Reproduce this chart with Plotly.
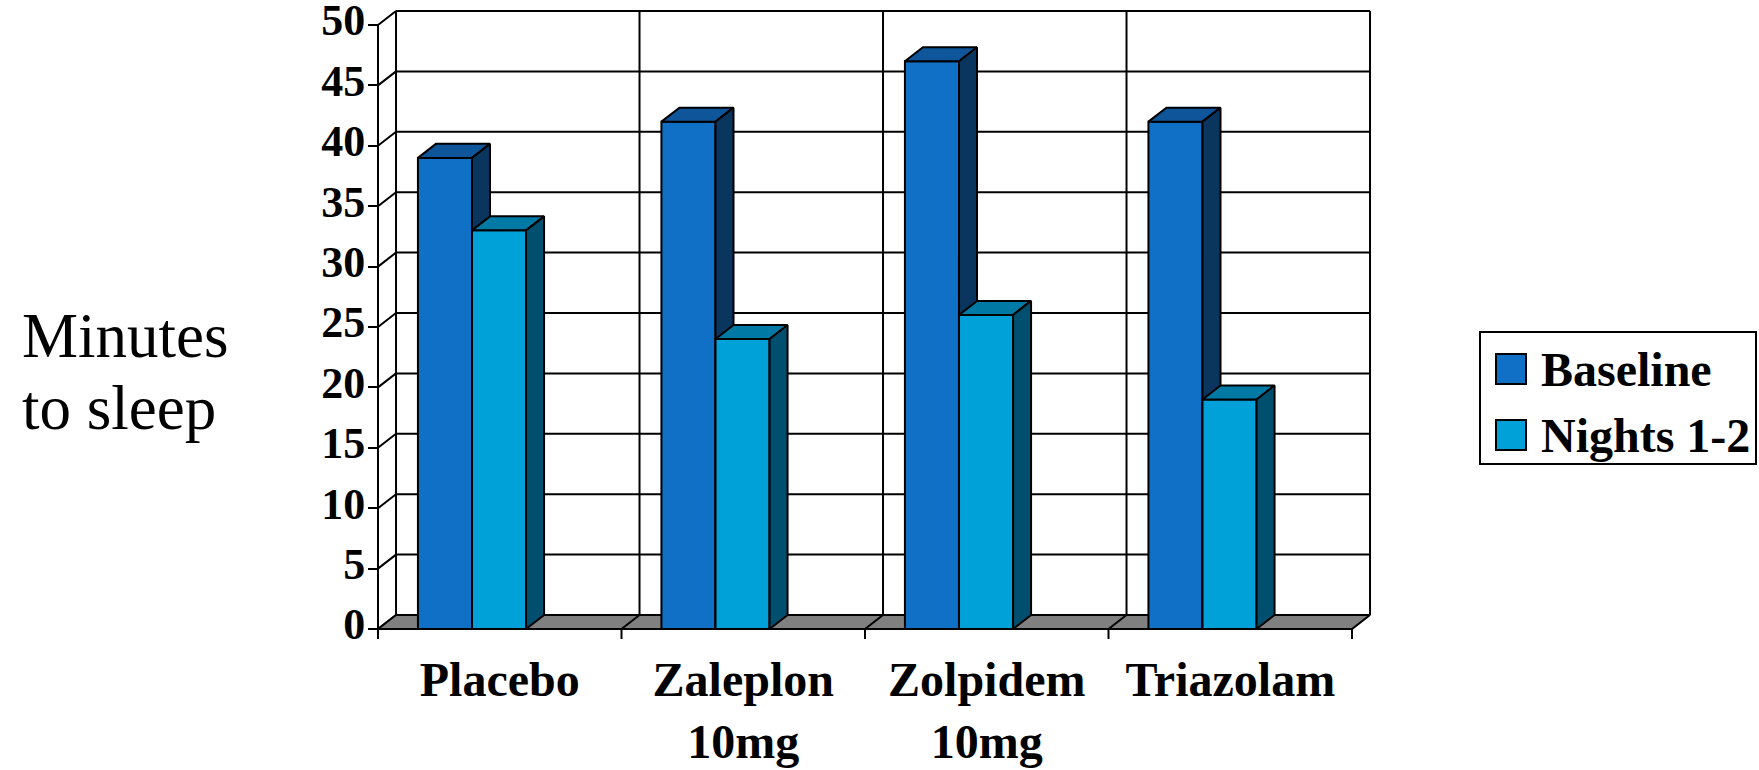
import plotly.graph_objects as go

# ---- data ----
categories = ["Placebo", "Zaleplon<br>10mg", "Zolpidem<br>10mg", "Triazolam"]
series_names = ["Baseline", "Nights 1-2"]
baseline = [39, 42, 47, 42]
nights_1_2 = [33, 24, 26, 19]
y_ticks = list(range(0, 55, 5))

# ---- styling ----
FONT = "Liberation Serif"
LABEL_SIZE = 48
front_colors = ["#1070C5", "#00A0D8"]
top_colors = ["#0E559A", "#0079A5"]
side_colors = ["#0A355F", "#004F6E"]
FLOOR = "#808080"
LW = 2

# 3-D depth of the chart box, in axis units
DX = 0.074   # horizontal depth (category units)
DY = 1.16    # vertical depth (value units)
BAR_W = 0.222
BAR_START = 0.164

n_cat = len(categories)
y_top = y_ticks[-1]

fig = go.Figure()


def add_lines(xs, ys):
    fig.add_trace(go.Scatter(x=xs, y=ys, mode="lines",
                             line=dict(color="black", width=LW),
                             hoverinfo="skip", showlegend=False))


def add_polys(polys, fill, name):
    xs, ys = [], []
    for p in polys:
        for px, py in p + [p[0]]:
            xs.append(px)
            ys.append(py)
        xs.append(None)
        ys.append(None)
    fig.add_trace(go.Scatter(x=xs, y=ys, mode="lines", fill="toself",
                             fillcolor=fill, name=name,
                             line=dict(color="black", width=LW),
                             hoverinfo="skip", showlegend=False))


# back wall: horizontal gridlines + left-wall diagonals
gx, gy = [], []
for v in y_ticks[1:]:
    gx += [DX, n_cat + DX, None]
    gy += [v + DY, v + DY, None]
for v in y_ticks:
    gx += [0, DX, None]
    gy += [v, v + DY, None]
# back wall verticals (left edge, category dividers, right edge)
for c in range(0, n_cat + 1):
    gx += [c + DX, c + DX, None]
    gy += [DY, y_top + DY, None]
# front value axis
gx += [0, 0, None]
gy += [-0.83, y_top, None]
# category tick marks under the floor
for c in range(1, n_cat + 1):
    gx += [c, c, None]
    gy += [0, -0.83, None]
add_lines(gx, gy)

# floor
add_polys([[(0, 0), (n_cat, 0), (n_cat + DX, DY), (DX, DY)]], FLOOR, "floor")
fx, fy = [], []
for c in range(1, n_cat):
    fx += [c, c + DX, None]
    fy += [0, DY, None]
add_lines(fx, fy)

# 3-D columns
for s, values in enumerate([baseline, nights_1_2]):
    off = BAR_START + s * BAR_W
    fronts, tops, sides = [], [], []
    for i, v in enumerate(values):
        x0 = i + off
        x1 = x0 + BAR_W
        fronts.append([(x0, 0), (x1, 0), (x1, v), (x0, v)])
        tops.append([(x0, v), (x1, v), (x1 + DX, v + DY), (x0 + DX, v + DY)])
        sides.append([(x1, 0), (x1 + DX, DY), (x1 + DX, v + DY), (x1, v)])
    add_polys(fronts, front_colors[s], series_names[s])
    add_polys(tops, top_colors[s], series_names[s])
    add_polys(sides, side_colors[s], series_names[s])

# ---- layout ----
W, H = 1759, 770
x_px0, x_scale = 378.0, 243.5     # pixel of x=0, pixels per category
y_px0, y_scale = 629.0, 12.08     # pixel of y=0, pixels per unit
x_rng = [-0.1, 4.2]
y_rng = [-1.0, 52.0]
x_dom = [(x_px0 + x_rng[0] * x_scale) / W, (x_px0 + x_rng[1] * x_scale) / W]
y_dom = [(H - (y_px0 - y_rng[0] * y_scale)) / H, (H - (y_px0 - y_rng[1] * y_scale)) / H]

bold = dict(family=FONT, size=LABEL_SIZE, weight="bold", color="black")
bold_ticks = dict(family=FONT, size=44, weight="bold", color="black")

fig.update_layout(
    width=W, height=H,
    margin=dict(l=0, r=0, t=0, b=0, autoexpand=False),
    paper_bgcolor="white", plot_bgcolor="rgba(0,0,0,0)",
    showlegend=False,
    font=dict(family=FONT, color="black"),
    xaxis=dict(domain=x_dom, range=x_rng, showgrid=False, zeroline=False,
               showline=False, ticks="", automargin=False,
               tickmode="array", tickvals=[i + 0.5 for i in range(n_cat)],
               ticktext=categories, ticklabelstandoff=6,
               ticklabeloverflow="allow", tickfont=bold),
    yaxis=dict(domain=y_dom, range=y_rng, anchor="free", position=x_px0 / W,
               showgrid=False, zeroline=False, showline=False, automargin=False,
               ticks="outside", ticklen=10, tickwidth=LW, tickcolor="black",
               tickmode="array", tickvals=y_ticks, ticklabelstandoff=-6,
               ticklabelshift=-5, ticklabeloverflow="allow", tickfont=bold_ticks),
)

# axis title
fig.add_annotation(text="Minutes", xref="paper", yref="paper",
                   x=20 / W, y=1 - 336 / H, xanchor="left", yanchor="middle",
                   showarrow=False, font=dict(family=FONT, size=63, color="black"))
fig.add_annotation(text="to sleep", xref="paper", yref="paper",
                   x=20 / W, y=1 - 408 / H, xanchor="left", yanchor="middle",
                   showarrow=False, font=dict(family=FONT, size=63, color="black"))

# legend box
fig.add_shape(type="rect", xref="paper", yref="paper",
              x0=1480 / W, x1=1756 / W, y0=1 - 464 / H, y1=1 - 332 / H,
              line=dict(color="black", width=LW), fillcolor="white")
for s, name in enumerate(series_names):
    cy = 369 + s * 66
    fig.add_shape(type="rect", xref="paper", yref="paper",
                  x0=1496 / W, x1=1526 / W, y0=1 - (cy + 15) / H, y1=1 - (cy - 15) / H,
                  line=dict(color="black", width=LW), fillcolor=front_colors[s])
    fig.add_annotation(text=name, xref="paper", yref="paper",
                       x=1539 / W, y=1 - cy / H, xanchor="left", yanchor="middle",
                       showarrow=False, font=bold)

fig.write_html("out.html")
